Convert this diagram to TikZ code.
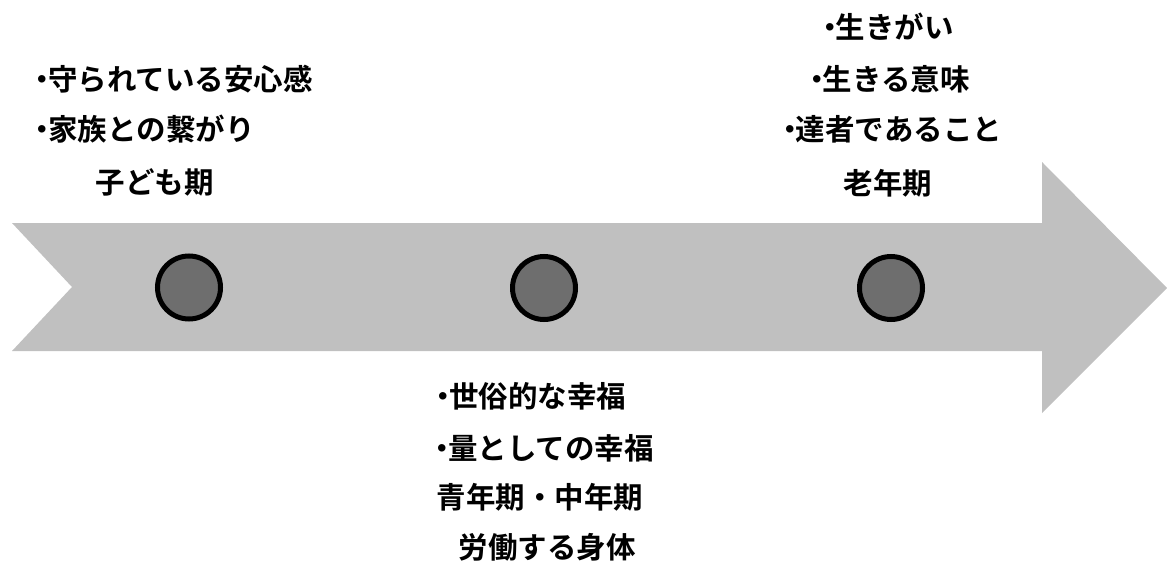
\documentclass[tikz,border=0pt]{standalone}
\usepackage{fontspec}
\newfontfamily\jpfont{Noto Sans CJK JP}[BoldFont={Noto Sans CJK JP Bold}]
\newcommand\mybul{・\kern-0.3em}
\definecolor{bandgray}{HTML}{C0C0C0}
\definecolor{stagegray}{HTML}{6E6E6E}
\begin{document}
\begin{tikzpicture}[x=1pt,y=-1pt,
  lbl/.style={font=\jpfont\bfseries\fontsize{29.5}{29.5}\selectfont, inner sep=0pt, anchor=base west},
  stage/.style={circle, draw=black, line width=5pt, fill=stagegray, minimum size=63pt, inner sep=0pt}]
\useasboundingbox (0,0) rectangle (1167,567);
% timeline arrow
\fill[bandgray] (12,223) -- (1042,223) -- (1042,162) -- (1167,288) -- (1042,413)
  -- (1042,351) -- (12,351) -- (72,287) -- cycle;
% stages
\node[stage] (c1) at (189,287.5) {};
\node[stage] (c2) at (544,288) {};
\node[stage] (c3) at (891,288) {};
% childhood
\node[lbl] (l1) at (27.5,91) {\mybul 守られている安心感};
\node[lbl] (l2) at (27.5,140) {\mybul 家族との繋がり};
\node[lbl] (l3) at (95.5,193) {子ども期};
% old age
\node[lbl] (r1) at (815,39) {\mybul 生きがい};
\node[lbl] (r2) at (802,91) {\mybul 生きる意味};
\node[lbl] (r3) at (775,141) {\mybul 達者であること};
\node[lbl] (r4) at (843.5,194) {老年期};
% adulthood
\node[lbl] (b1) at (428.5,407) {\mybul 世俗的な幸福};
\node[lbl] (b2) at (427.5,459) {\mybul 量としての幸福};
\node[lbl] (b3) at (436.5,508) {青年期・中年期};
\node[lbl] (b4) at (458.5,558) {労働する身体};
\end{tikzpicture}
\end{document}
